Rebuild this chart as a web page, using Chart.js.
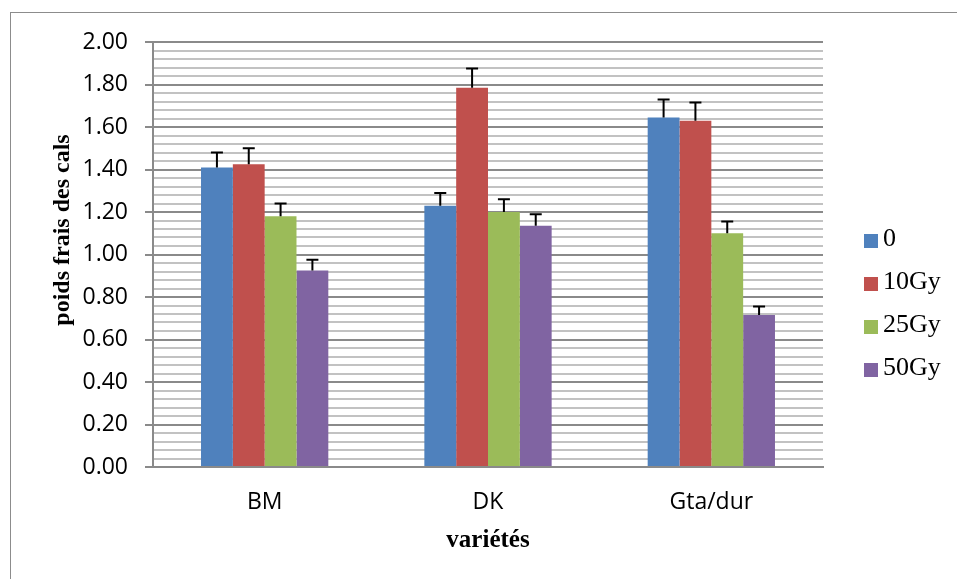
<!DOCTYPE html>
<html>
<head>
<meta charset="utf-8">
<script src="https://cdn.jsdelivr.net/npm/chart.js@4.4.1/dist/chart.umd.min.js"></script>
<style>
  html, body { margin: 0; padding: 0; background: #fff; }
  #wrap { position: relative; width: 957px; height: 579px; overflow: hidden; }
  #frame { position: absolute; left: 10px; top: 12px; width: 960px; height: 600px;
           border-left: 1.5px solid #8c8c8c; border-top: 1.5px solid #8c8c8c; }
  canvas { position: absolute; left: 0; top: 0; }
  .leg { position: absolute; left: 864px; height: 30px; display: flex; align-items: center;
         font-family: "Liberation Serif", "Times New Roman", serif; font-size: 26px; color: #000; }
  .leg span.box { display: inline-block; width: 14px; height: 14px; margin-right: 5px; margin-top: 5px; }
</style>
</head>
<body>
<div id="wrap">
  <div id="frame"></div>
  <canvas id="chart" width="957" height="579"></canvas>
</div>
<script>
// ---- data ----
const categories = ["BM", "DK", "Gta/dur"];
const seriesNames = ["0", "10Gy", "25Gy", "50Gy"];
const seriesColors = ["#4F81BD", "#C0504D", "#9BBB59", "#8064A2"];

const vals0 = [1.41, 1.23, 1.645];
const vals10 = [1.425, 1.785, 1.63];
const vals25 = [1.18, 1.20, 1.10];
const vals50 = [0.925, 1.135, 0.715];

const err0 = [0.07, 0.06, 0.085];
const err10 = [0.075, 0.09, 0.085];
const err25 = [0.06, 0.06, 0.055];
const err50 = [0.05, 0.055, 0.04];

const yMin = 0, yMax = 2, yMinorStep = 0.04, yMajorStep = 0.2;

const allVals = [vals0, vals10, vals25, vals50];
const allErrs = [err0, err10, err25, err50];

function isMajor(v) {
  const r = v / yMajorStep;
  return Math.abs(r - Math.round(r)) < 1e-6;
}

// error bars, plus side only, like the Excel original
const errorBars = {
  id: "errorBars",
  afterDatasetsDraw(chart) {
    const ctx = chart.ctx;
    const y = chart.scales.y;
    ctx.save();
    ctx.strokeStyle = "#000";
    ctx.lineWidth = 2;
    chart.data.datasets.forEach((ds, di) => {
      const meta = chart.getDatasetMeta(di);
      meta.data.forEach((bar, i) => {
        const top = y.getPixelForValue(ds.data[i] + ds.errors[i]);
        ctx.beginPath();
        ctx.moveTo(bar.x, bar.y);
        ctx.lineTo(bar.x, top);
        ctx.moveTo(bar.x - 6, top);
        ctx.lineTo(bar.x + 6, top);
        ctx.stroke();
      });
    });
    ctx.restore();
  }
};

// y axis title sits a bit above the middle in the original
const yTitle = {
  id: "yTitle",
  afterDraw(chart) {
    const ctx = chart.ctx;
    ctx.save();
    ctx.translate(63, 230);
    ctx.rotate(-Math.PI / 2);
    ctx.font = "bold 24px 'Liberation Serif', 'Times New Roman', serif";
    ctx.fillStyle = "#000";
    ctx.textAlign = "center";
    ctx.textBaseline = "middle";
    ctx.fillText("poids frais des cals", 0, 0);
    ctx.restore();
  }
};

new Chart(document.getElementById("chart"), {
  type: "bar",
  data: {
    labels: categories,
    datasets: seriesNames.map((name, k) => ({
      label: name,
      data: allVals[k],
      errors: allErrs[k],
      backgroundColor: seriesColors[k],
      borderWidth: 0,
      barPercentage: 1,
      categoryPercentage: 0.57
    }))
  },
  options: {
    responsive: false,
    animation: false,
    layout: { padding: { left: 0, right: 134, top: 42, bottom: 0 } },
    plugins: {
      legend: { display: false },
      tooltip: { enabled: false }
    },
    scales: {
      x: {
        grid: { display: false, drawTicks: false },
        border: { display: true, color: "#8a8a8a", width: 2 },
        ticks: {
          padding: 22,
          color: "#000",
          font: { family: "'Open Sans', sans-serif", size: 23 }
        },
        title: {
          display: true,
          text: "variétés",
          color: "#000",
          font: { family: "'Liberation Serif', 'Times New Roman', serif", size: 25, weight: "bold" },
          padding: { top: 0, bottom: 23 }
        },
        afterFit(s) { s.height = 112; }
      },
      y: {
        min: yMin,
        max: yMax,
        grid: {
          lineWidth: 2,
          tickLength: 8,
          color: (c) => isMajor(c.tick.value) ? "#8a8a8a" : "#c2c2c2",
          tickColor: (c) => isMajor(c.tick.value) ? "#8a8a8a" : "rgba(0,0,0,0)"
        },
        border: { display: true, color: "#8a8a8a", width: 2 },
        ticks: {
          stepSize: yMinorStep,
          autoSkip: false,
          padding: 17,
          color: "#000",
          font: { family: "'Open Sans', sans-serif", size: 23 },
          callback: (v) => isMajor(v) ? Number(v).toFixed(2) : ""
        },
        afterFit(s) { s.width = 153; }
      }
    }
  },
  plugins: [errorBars, yTitle]
});

// legend, built from the series arrays
const legendTops = [223, 266, 309, 352];
seriesNames.forEach((name, k) => {
  const row = document.createElement("div");
  row.className = "leg";
  row.style.top = legendTops[k] + "px";
  row.innerHTML = '<span class="box" style="background:' + seriesColors[k] + '"></span>' + name;
  document.getElementById("wrap").appendChild(row);
});
</script>
</body>
</html>
